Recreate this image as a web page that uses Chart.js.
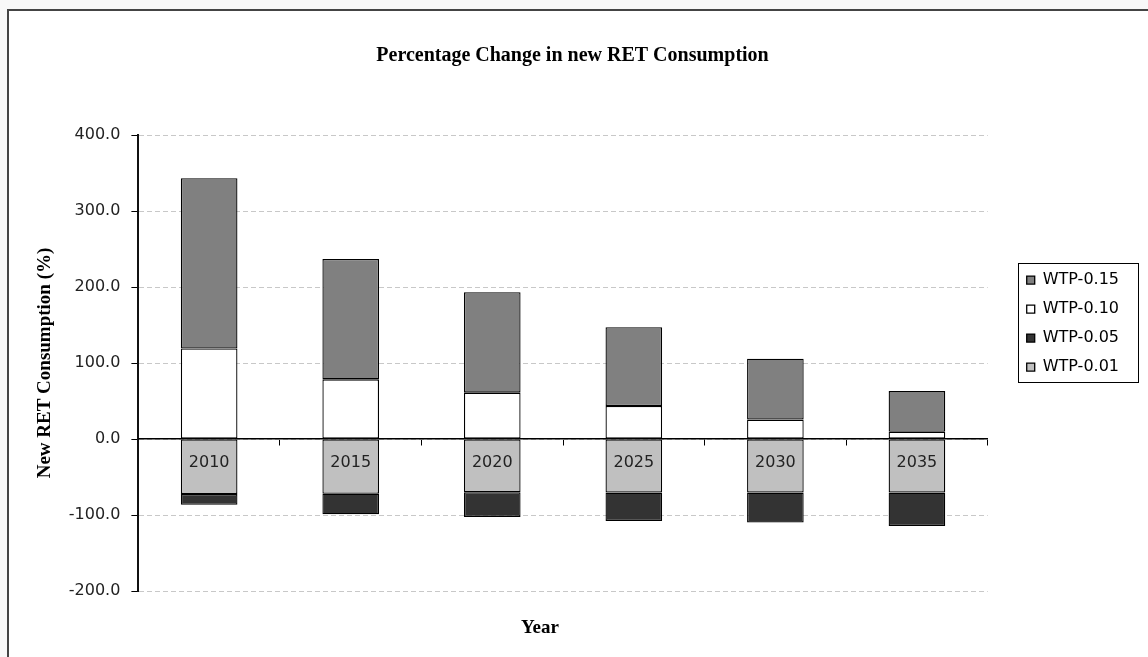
<!DOCTYPE html>
<html>
<head>
<meta charset="utf-8">
<script src="https://cdn.jsdelivr.net/npm/chart.js@4/dist/chart.umd.min.js"></script>
<style>
  html, body { margin: 0; padding: 0; background: #f8f8f8; }
  #frame {
    position: absolute; left: 7px; top: 9px; width: 1200px; height: 700px;
    border: 2px solid #444; background: #fff;
  }
  #wrap { position: absolute; left: 0; top: 0; width: 1148px; height: 657px; }
</style>
</head>
<body>
<div id="frame"></div>
<div id="wrap"><canvas id="c" width="1148" height="657"></canvas></div>
<script>
// Years on the category axis
const years = ['2010', '2015', '2020', '2025', '2030', '2035'];

// Change in new RET consumption (%) for each willingness-to-pay level
const wtp001 = [-72.5, -72, -70, -70.5, -70.5, -70.5];
const wtp005 = [-14, -27, -32.5, -37.5, -39.5, -44];
const wtp010 = [119, 78.5, 61, 43.5, 25.5, 9.5];
const wtp015 = [224, 158.5, 132, 103.5, 80, 53.5];

// Value axis ticks
const yTicks = [-200, -100, 0, 100, 200, 300, 400];

const serif = 'Liberation Serif, Times New Roman, serif';
const sans = 'DejaVu Sans, Verdana, sans-serif';

// Frame around the legend entries
const legendFrame = {
  id: 'legendFrame',
  afterDraw(chart) {
    const lg = chart.legend;
    if (!lg || !lg.legendHitBoxes || !lg.legendHitBoxes.length) return;
    const hb = lg.legendHitBoxes;
    const left = Math.min(...hb.map(h => h.left)) - 9;
    const right = Math.max(...hb.map(h => h.left + h.width)) + 19;
    const top = hb[0].top - 9;
    const bottom = hb[hb.length - 1].top + hb[hb.length - 1].height + 7;
    const ctx = chart.ctx;
    ctx.save();
    ctx.strokeStyle = '#000';
    ctx.lineWidth = 1;
    ctx.strokeRect(Math.round(left) + 0.5, Math.round(top) + 0.5,
                   Math.round(right - left), Math.round(bottom - top));
    ctx.restore();
  }
};

// Category axis caption below the plot
const yearCaption = {
  id: 'yearCaption',
  afterDraw(chart) {
    const ctx = chart.ctx;
    ctx.save();
    ctx.font = 'bold 19px ' + serif;
    ctx.fillStyle = '#000';
    ctx.textAlign = 'center';
    ctx.textBaseline = 'middle';
    ctx.fillText('Year', 540, 628);
    ctx.restore();
  }
};

const mk = (label, data, color) => ({
  label, data,
  backgroundColor: color,
  borderColor: '#000',
  borderWidth: 1.3,
  borderSkipped: false,
  categoryPercentage: 1.0,
  barPercentage: 0.4,
  stack: 's'
});

new Chart(document.getElementById('c'), {
  type: 'bar',
  data: {
    labels: years,
    datasets: [
      mk('WTP-0.01', wtp001, '#c0c0c0'),
      mk('WTP-0.05', wtp005, '#333333'),
      mk('WTP-0.10', wtp010, '#ffffff'),
      mk('WTP-0.15', wtp015, '#808080')
    ]
  },
  options: {
    responsive: false,
    animation: false,
    layout: { padding: { left: 16, right: 19, top: 44, bottom: 66 } },
    plugins: {
      tooltip: { enabled: false },
      title: {
        display: true,
        text: 'Percentage Change in new RET Consumption',
        color: '#000',
        font: { family: serif, size: 20, weight: 'bold' },
        padding: { top: 0, bottom: 67 }
      },
      legend: {
        position: 'right',
        reverse: true,
        title: {
          display: true,
          text: ' ',
          font: { size: 1 },
          padding: { top: 11, bottom: 0 }
        },
        labels: {
          color: '#000',
          font: { family: sans, size: 16 },
          boxWidth: 8,
          boxHeight: 8,
          padding: 13
        }
      }
    },
    scales: {
      x: {
        type: 'category',
        position: { y: 0 },
        grid: {
          display: true,
          offset: true,
          drawOnChartArea: false,
          drawTicks: true,
          tickLength: 6,
          tickColor: '#000'
        },
        border: { display: true, color: '#000', width: 1.5, z: 1 },
        ticks: {
          z: 1,
          color: '#222',
          font: { family: sans, size: 16 },
          padding: 8,
          maxRotation: 0
        }
      },
      y: {
        stacked: true,
        min: -200,
        max: 400,
        afterBuildTicks: (scale) => { scale.ticks = yTicks.map(v => ({ value: v })); },
        grid: {
          color: '#c8c8c8',
          tickBorderDash: [],
          tickColor: '#000',
          tickLength: 7,
          drawTicks: true
        },
        border: { display: true, color: '#111', width: 2, dash: [5, 3] },
        ticks: {
          color: '#222',
          font: { family: sans, size: 16 },
          padding: 11,
          callback: (v) => Number(v).toFixed(1)
        },
        title: {
          display: true,
          text: 'New RET Consumption (%)',
          color: '#000',
          font: { family: serif, size: 19, weight: 'bold' },
          padding: { top: 18, bottom: 1 }
        }
      },
      spacer: {
        type: 'linear',
        position: 'right',
        display: true,
        grid: { display: false },
        border: { display: false },
        ticks: { display: false },
        afterFit: (scale) => { scale.width = 26; }
      }
    }
  },
  plugins: [legendFrame, yearCaption]
});
</script>
</body>
</html>
